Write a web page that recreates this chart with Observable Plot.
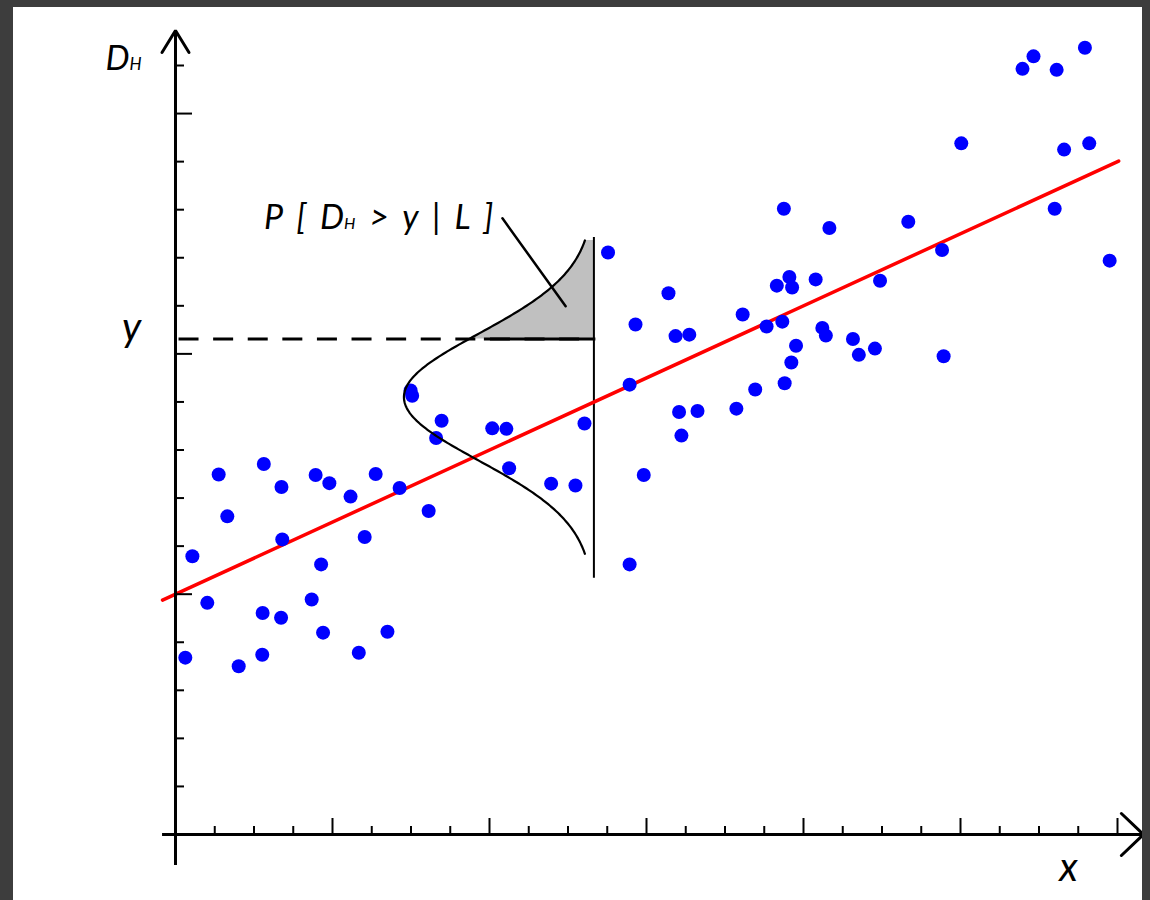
<!DOCTYPE html>
<html>
<head>
<meta charset="utf-8">
<script src="https://cdn.jsdelivr.net/npm/d3@7"></script>
<script src="https://cdn.jsdelivr.net/npm/@observablehq/plot@0.6"></script>
<style>
  html, body { margin: 0; padding: 0; background: #3d3d3d; width: 1150px; height: 900px; overflow: hidden; }
  #chart { position: absolute; left: 13px; top: 7px; width: 1129px; height: 893px; background: #ffffff; }
  #chart svg { display: block; background: #ffffff; }
  #chart text { white-space: pre; }
</style>
</head>
<body>
<div id="chart"></div>
<script>
// ---- observations (x in x-tick units, y in y-tick units) ----
const pointX = [
  1.10, 2.25, 2.70, 3.57, 3.92, 4.46, 5.10, 5.71, 1.32, 2.72, 0.43, 3.71, 4.82, 6.45,
  0.81, 2.22, 2.69, 3.47, 3.76, 5.40, 0.25, 1.61, 2.21, 4.67,
  11.02, 11.72, 5.99, 6.03, 6.78, 6.64, 8.07, 8.43, 10.42, 11.57, 8.50, 9.57, 10.19, 11.93, 11.57,
  15.50, 16.66, 15.64, 15.32, 15.71, 16.31, 17.95, 12.56, 14.45, 12.74, 13.09, 15.06, 15.46,
  16.48, 16.57, 17.26, 17.41, 17.82, 15.81, 15.69, 15.52, 14.77, 12.83, 13.30, 14.29, 12.89,
  23.17, 21.86, 21.58, 22.45, 20.02, 22.64, 23.28, 18.67, 22.40, 19.53, 23.80, 19.57
];
const pointY = [
  7.49, 7.71, 7.23, 7.48, 7.31, 7.03, 7.50, 7.21, 6.62, 6.14, 5.79, 5.62, 6.19, 6.73,
  4.82, 4.61, 4.51, 4.89, 4.20, 4.22, 3.68, 3.50, 3.74, 3.78,
  12.11, 10.61, 9.24, 9.13, 8.61, 8.25, 8.45, 8.44, 8.55, 9.36, 7.62, 7.30, 7.26, 7.48, 5.62,
  13.02, 12.62, 11.60, 11.42, 11.38, 11.55, 11.52, 11.26, 10.82, 10.37, 10.40, 10.57, 10.67,
  10.54, 10.38, 10.31, 9.98, 10.11, 10.17, 9.82, 9.39, 9.26, 8.79, 8.81, 8.86, 8.30,
  16.37, 16.19, 15.93, 15.91, 14.38, 14.25, 14.38, 12.75, 13.02, 12.16, 11.94, 9.95
];

// ---- axis ticks ----
const xTicks = [1,2,3,4,5,6,7,8,9,10,11,12,13,14,15,16,17,18,19,20,21,22,23,24];
const xMajorTicks = [4, 8, 12, 16, 20, 24];
const yTicks = [1,2,3,4,5,6,7,8,9,10,11,12,13,14,15,16];
const yMajorTicks = [5, 10, 15];
const xAxisExtent = [-0.33, 24.66];
const yAxisExtent = [-0.645, 16.73];

// ---- regression line ----
const lineIntercept = 5;
const lineSlope = 0.375;
const lineXExtent = [-0.33, 24.03];

// ---- conditional density at L ----
const condX = 10.66;
const condMean = 9.10;
const condSigma = 1.32;
const densityWidth = 4.84;
const curveYExtent = [5.84, 12.36];
const condLineYExtent = [5.33, 12.42];
const threshold = 10.31;
const solidStartX = 7.87;
const leaderX = [8.33, 9.94];
const leaderY = [12.82, 10.99];

// ---- labels (text, subscript) ----
const axisYLabel = ["D", "H"];
const axisXLabel = "x";
const thresholdLabel = "y";
const probLabel = ["P [ D", "H", " > y | L ]"];

// ---- layout ----
const W = 1129, H = 893;
const mL = 162, mR = 25, mT = 58, mB = 66;
const kx = (W - mL - mR) / 24;   // px per x unit
const ky = (H - mT - mB) / 16;   // px per y unit

const points = pointX.map((x, i) => ({x, y: pointY[i]}));
const regLine = lineXExtent.map(x => ({x, y: lineIntercept + lineSlope * x}));

const dens = y => condX - densityWidth * Math.exp(-0.5 * ((y - condMean) / condSigma) ** 2);
const nCurve = 240;
const curve = d3.range(nCurve + 1).map(i => {
  const y = curveYExtent[0] + (curveYExtent[1] - curveYExtent[0]) * i / nCurve;
  return {y, x: dens(y)};
});
const tail = [{y: threshold, x: dens(threshold)}, ...curve.filter(d => d.y > threshold)];

const yTip = yAxisExtent[1], xTip = xAxisExtent[1];
const yArrow = [
  {x: -13.5 / kx, y: yTip - 22 / ky}, {x: 0, y: yTip}, {x: 13.5 / kx, y: yTip - 22 / ky}
];
const xArrow = [
  {x: xTip - 22 / kx, y: 21 / ky}, {x: xTip, y: 0}, {x: xTip - 22 / kx, y: -21 / ky}
];

const font = "Lato, 'Open Sans', sans-serif";
const axisYText = axisYLabel.join("");
const probText = probLabel.join("");

const plot = Plot.plot({
  width: W, height: H,
  marginLeft: mL, marginRight: mR, marginTop: mT, marginBottom: mB,
  x: {domain: [0, 24], axis: null},
  y: {domain: [0, 16], axis: null},
  style: {background: "#ffffff"},
  marks: [
    Plot.areaX(tail, {y: "y", x1: "x", x2: condX, fill: "#c0c0c0", curve: "linear"}),
    Plot.ruleY([threshold], {x1: 0.09, x2: condX, stroke: "#000", strokeWidth: 3, strokeDasharray: "20,14.6"}),
    Plot.ruleY([threshold], {x1: solidStartX, x2: condX + 0.05, stroke: "#000", strokeWidth: 3}),
    Plot.ruleX([condX], {y1: condLineYExtent[0], y2: condLineYExtent[1], stroke: "#000", strokeWidth: 2}),
    Plot.line(regLine, {x: "x", y: "y", stroke: "#ff0000", strokeWidth: 3.5}),
    Plot.dot(points, {x: "x", y: "y", r: 7, fill: "#0000ff", stroke: "none"}),
    Plot.line(curve, {x: "x", y: "y", stroke: "#000", strokeWidth: 2.2, curve: "linear"}),
    Plot.line(leaderX.map((x, i) => ({x, y: leaderY[i]})), {x: "x", y: "y", stroke: "#000", strokeWidth: 2.5}),
    Plot.ruleX([0], {y1: yAxisExtent[0], y2: yAxisExtent[1], stroke: "#000", strokeWidth: 3}),
    Plot.ruleY([0], {x1: xAxisExtent[0], x2: xAxisExtent[1], stroke: "#000", strokeWidth: 3}),
    Plot.line(yArrow, {x: "x", y: "y", stroke: "#000", strokeWidth: 3, strokeLinejoin: "miter"}),
    Plot.line(xArrow, {x: "x", y: "y", stroke: "#000", strokeWidth: 3, strokeLinejoin: "miter"}),
    Plot.ruleX(xTicks, {x: d => d, y1: 0, y2: d => (xMajorTicks.includes(d) ? 16 : 8) / ky, stroke: "#000", strokeWidth: 2}),
    Plot.ruleY(yTicks, {y: d => d, x1: 0, x2: d => (yMajorTicks.includes(d) ? 17 : 9) / kx, stroke: "#000", strokeWidth: 2}),
    Plot.text([axisYText], {x: 0, y: 16, dx: -70, dy: -6, text: d => d, textAnchor: "start", fontSize: 34, fontStyle: "italic", fontFamily: font, fill: "#000"}),
    Plot.text([thresholdLabel], {x: 0, y: threshold, dx: -44, dy: -11, text: d => d, textAnchor: "middle", fontSize: 40, fontStyle: "italic", fontFamily: font, fill: "#000"}),
    Plot.text([axisXLabel], {x: 24, y: 0, dx: -49, dy: 34, text: d => d, textAnchor: "middle", fontSize: 40, fontStyle: "italic", fontFamily: font, fill: "#000"}),
    Plot.text([probText], {x: leaderX[0], y: leaderY[0], dx: -9, dy: 0, text: d => d, textAnchor: "end", fontSize: 34, fontStyle: "italic", fontFamily: font, fill: "#000"})
  ]
});

// rebuild labels with small "H" subscript letters
function richText(full, parts, sizes, wordSpacing) {
  d3.select(plot).selectAll("text")
    .filter(function() { return this.textContent === full; })
    .each(function() {
      const t = d3.select(this);
      t.selectAll("*").remove();
      t.text(null);
      if (wordSpacing) t.style("word-spacing", wordSpacing);
      parts.forEach((s, i) => t.append("tspan").attr("font-size", sizes[i]).text(s));
    });
}
richText(axisYText, axisYLabel, [34, 17]);
richText(probText, probLabel, [34, 16, 34], "6px");

document.getElementById("chart").appendChild(plot);
</script>
</body>
</html>
